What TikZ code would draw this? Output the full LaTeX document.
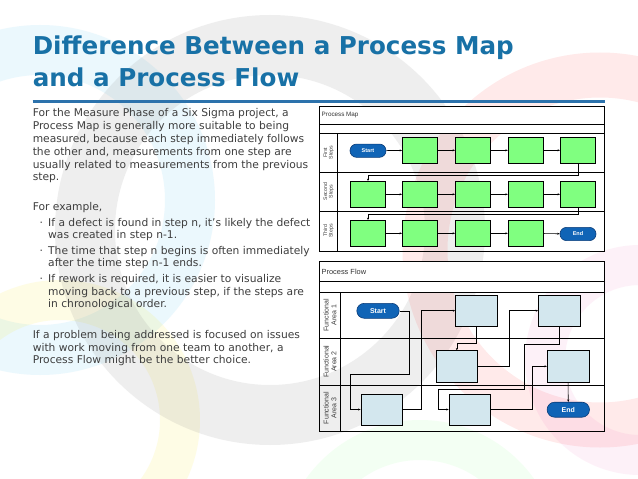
\documentclass[tikz,border=0pt]{standalone}
\usepackage{fontspec}
\setmainfont{DejaVu Sans}
\newfontfamily\diafont{Liberation Sans}
\usetikzlibrary{arrows.meta}
\definecolor{titleblue}{RGB}{24,113,166}
\definecolor{ruleblue}{RGB}{44,114,172}
\definecolor{bodygray}{RGB}{62,62,62}
\definecolor{mapgreen}{RGB}{128,255,128}
\definecolor{flowblue}{RGB}{211,231,238}
\definecolor{pillblue}{RGB}{16,100,182}
\definecolor{pilledge}{RGB}{10,60,120}
\definecolor{labelgray}{RGB}{60,60,60}
\tikzset{
  bodyline/.style={anchor=base west, inner sep=0pt, text=bodygray, font=\fontsize{10.7}{12}\selectfont},
  titleline/.style={anchor=base west, inner sep=0pt, text=titleblue, font=\fontsize{24.6}{26}\selectfont\bfseries},
  frame/.style={draw=black, line width=0.8pt},
  lanesep/.style={draw=black, line width=0.8pt},
  mapbox/.style={draw=black, line width=0.6pt, fill=mapgreen, minimum width=35.4pt, minimum height=26pt, inner sep=0pt},
  flowbox/.style={draw=black, line width=0.6pt, fill=flowblue, minimum width=41.6pt, minimum height=31.3pt, inner sep=0pt},
  mappill/.style={draw=pilledge, line width=0.6pt, fill=pillblue, rounded corners=6.6pt, minimum width=36pt, minimum height=13.3pt, inner sep=0pt, text=white, font=\diafont\fontsize{5.5}{6}\selectfont\bfseries},
  flowpill/.style={draw=pilledge, line width=0.6pt, fill=pillblue, rounded corners=7.5pt, minimum width=42.4pt, minimum height=15pt, inner sep=0pt, text=white, font=\diafont\fontsize{7}{8}\selectfont\bfseries},
  conn/.style={draw=black, line width=0.6pt, -{Stealth[length=2.4pt,width=2pt]}},
  maplabel/.style={rotate=90, align=center, inner sep=0pt, text=labelgray, font=\diafont\fontsize{5.2}{5.6}\selectfont},
  flowlabel/.style={rotate=90, align=center, inner sep=0pt, text=labelgray, font=\diafont\fontsize{7}{7.6}\selectfont},
  headtext/.style={anchor=west, inner sep=0pt, text=black!80, font=\diafont\fontsize{6.3}{7}\selectfont},
}
\begin{document}
\begin{tikzpicture}[x=1pt,y=-1pt]
\useasboundingbox (0,0) rectangle (638,479);
\fill[white] (0,0) rectangle (638,479);
% faint background rings
\begin{scope}
\clip (0,0) rectangle (638,479);
\draw[cyan!60, line width=50pt, opacity=0.13] (40,200) circle (150);
\draw[yellow!90!orange, line width=40pt, opacity=0.10] (60,420) circle (120);
\draw[gray, line width=60pt, opacity=0.13] (270,230) circle (185);
\draw[red!80, line width=45pt, opacity=0.10] (600,250) circle (175);
\draw[magenta!70, line width=40pt, opacity=0.08] (640,360) circle (95);
\draw[green!60, line width=40pt, opacity=0.08] (420,560) circle (120);
\end{scope}
% title
\node[titleline] (t1) at (32.6,54) {Difference Between a Process Map};
\node[titleline] (t2) at (32.6,86) {and a Process Flow};
\coordinate (rl) at (32.6,101);
\coordinate (rr) at (605.3,101);
\draw[ruleblue, line width=3pt] (rl) -- (rr);
% body text
\node[bodyline] (p1) at (32.6,116.8) {For the Measure Phase of a Six Sigma project, a};
\node[bodyline] (p2) at (32.6,129.6) {Process Map is generally more suitable to being};
\node[bodyline] (p3) at (32.6,142.4) {measured, because each step immediately follows};
\node[bodyline] (p4) at (32.6,155.2) {the other and, measurements from one step are};
\node[bodyline] (p5) at (32.6,168.0) {usually related to measurements from the previous};
\node[bodyline] (p6) at (32.6,180.8) {step.};
\node[bodyline] (e0) at (32.6,210.8) {For example,};
\node[bodyline] (b1d) at (39.5,226.2) {·};
\node[bodyline] (b1a) at (48,226.2) {If a defect is found in step n, it’s likely the defect};
\node[bodyline] (b1b) at (48,238.8) {was created in step n-1.};
\node[bodyline] (b2d) at (39.5,254.2) {·};
\node[bodyline] (b2a) at (48,254.2) {The time that step n begins is often immediately};
\node[bodyline] (b2b) at (48,266.8) {after the time step n-1 ends.};
\node[bodyline] (b3d) at (39.5,282.2) {·};
\node[bodyline] (b3a) at (48,282.2) {If rework is required, it is easier to visualize};
\node[bodyline] (b3b) at (48,295.0) {moving back to a previous step, if the steps are};
\node[bodyline] (b3c) at (48,307.6) {in chronological order.};
\node[bodyline] (q1) at (32.6,338.5) {If a problem being addressed is focused on issues};
\node[bodyline] (q2) at (32.6,351.2) {with work moving from one team to another, a};
\node[bodyline] (q3) at (32.6,363.8) {Process Flow might be the better choice.};
% ===== Process Map frame =====
\fill[white] (319.3,106) rectangle (604.7,133.3);
\draw[frame] (319.3,106) rectangle (604.7,251);
\draw[lanesep] (319.3,124.3) -- (604.7,124.3);
\draw[lanesep] (319.3,133.3) -- (604.7,133.3);
\draw[lanesep] (319.3,172.3) -- (604.7,172.3);
\draw[lanesep] (319.3,211) -- (604.7,211);
\draw[lanesep] (337.7,133.3) -- (337.7,251);
\node[headtext] (mh) at (321.5,115.2) {Process Map};
\node[maplabel] (ml1) at (328.5,152.8) {First\\Steps};
\node[maplabel] (ml2) at (328.5,191.6) {Second\\Steps};
\node[maplabel] (ml3) at (328.5,231) {Third\\Steps};
% row 1
\node[mappill] (ms) at (368,150.7) {Start};
\node[mapbox] (m1) at (420,150.3) {};
\node[mapbox] (m2) at (473,150.3) {};
\node[mapbox] (m3) at (525.8,150.3) {};
\node[mapbox] (m4) at (578,150.3) {};
% row 2
\node[mapbox] (n1) at (368,194.3) {};
\node[mapbox] (n2) at (420,194.3) {};
\node[mapbox] (n3) at (473,194.3) {};
\node[mapbox] (n4) at (525.8,194.3) {};
\node[mapbox] (n5) at (578,194.3) {};
% row 3
\node[mapbox] (r1) at (368,233.3) {};
\node[mapbox] (r2) at (420,233.3) {};
\node[mapbox] (r3) at (473,233.3) {};
\node[mapbox] (r4) at (525.8,233.3) {};
\node[mappill] (me) at (578,234) {End};
\draw[conn] (ms) -- (m1);
\draw[conn] (m1) -- (m2);
\draw[conn] (m2) -- (m3);
\draw[conn] (m3) -- (m4);
\draw[conn] (m4.south) -- ++(0,11.4) -| (n1.north);
\draw[conn] (n1) -- (n2);
\draw[conn] (n2) -- (n3);
\draw[conn] (n3) -- (n4);
\draw[conn] (n4) -- (n5);
\draw[conn] (n5.south) -- ++(0,6.4) -| (r1.north);
\draw[conn] (r1) -- (r2);
\draw[conn] (r2) -- (r3);
\draw[conn] (r3) -- (r4);
\draw[conn] (r4) -- (me);
% ===== Process Flow frame =====
\fill[white] (319.3,261) rectangle (604.7,292.3);
\draw[frame] (319.3,261) rectangle (604.7,431);
\draw[lanesep] (319.3,281) -- (604.7,281);
\draw[lanesep] (319.3,292.3) -- (604.7,292.3);
\draw[lanesep] (319.3,338.3) -- (604.7,338.3);
\draw[lanesep] (319.3,385) -- (604.7,385);
\draw[lanesep] (340.7,292.3) -- (340.7,431);
\node[headtext, font=\diafont\fontsize{7.4}{8}\selectfont] (fh) at (321.5,271.5) {Process Flow};
\node[flowlabel] (fl1) at (330,315.3) {Functional\\Area 1};
\node[flowlabel] (fl2) at (330,361.6) {Functional\\Area 2};
\node[flowlabel] (fl3) at (330,408) {Functional\\Area 3};
\node[flowpill] (fs) at (378,310.8) {Start};
\node[flowbox] (fA) at (476.3,310.7) {};
\node[flowbox] (fB) at (559.2,310.7) {};
\node[flowbox] (fC) at (456.8,366.3) {};
\node[flowbox] (fD) at (568,366.3) {};
\node[flowbox] (fE) at (381.7,409.5) {};
\node[flowbox] (fF) at (469.8,409.5) {};
\node[flowpill] (fe) at (568.3,409.7) {End};
\draw[conn] (fs.east) -- (409.3,310.8) -- (409.3,374) -- (350.3,374) |- (fE.west);
\draw[conn] (fE.east) -- (421,409.5) |- (fA.west);
\draw[conn] (fA.south) -- ++(0,17) -| (fC.north);
\draw[conn] (fC.east) -- (509.3,366.3) |- (fB.west);
\draw[conn] (fB.south) -- (559.2,344.3) -- (524,344.3) -- (524,389) -- (438.7,389) |- (fF.west);
\draw[conn] (fF.east) -- (532.3,409.5) |- (fD.west);
\draw[conn] (fD) -- (fe);
\end{tikzpicture}
\end{document}
